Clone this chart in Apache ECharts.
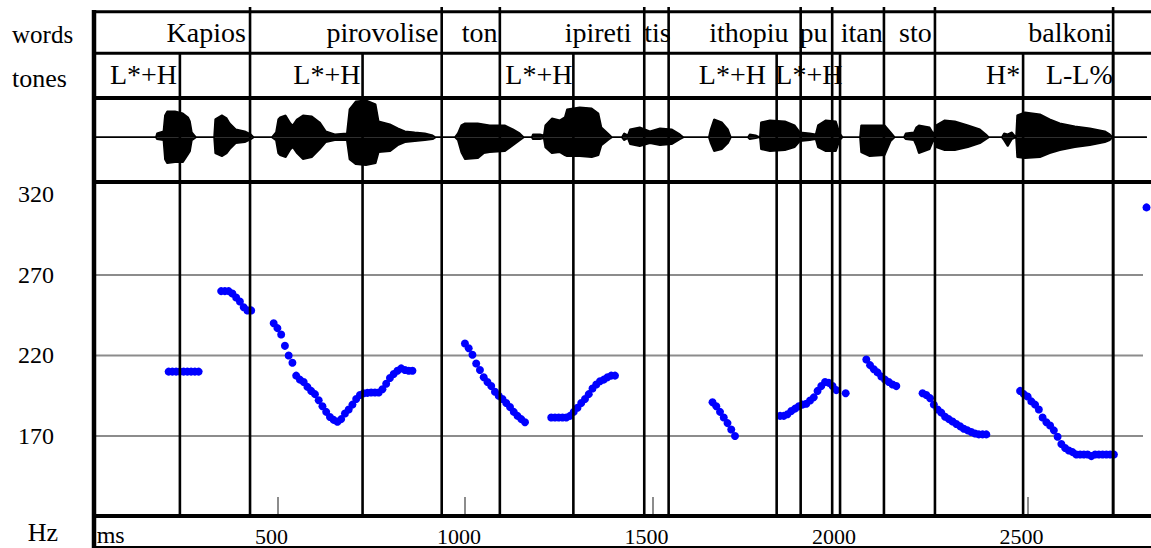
<!DOCTYPE html>
<html><head><meta charset="utf-8">
<script src="https://cdn.jsdelivr.net/npm/echarts@6.0.0/dist/echarts.min.js"></script>
<style>html,body{margin:0;padding:0;background:#fff}#c{width:1151px;height:548px}</style>
</head><body><div id="c"></div>
<script>
// ---------- data ----------
const wordLabels = ['Kapios','pirovolise','ton','ipireti','tis','ithopiu','pu','itan','sto','balkoni'];
const wordEnds   = [427, 938, 1093, 1478, 1543, 1895, 1979, 2117, 2253, 2728];
const wordLabelTimes = [310, 780, 1039, 1355, 1513, 1757, 1929, 2058, 2201, 2614];
const toneLabels = ['L*+H','L*+H','L*+H','L*+H','L*+H','H*','L-L%'];
const toneEnds   = [240, 727, 1289, 1831, 2000, 2488, 2728];
const toneLabelTimes = [143, 632, 1197, 1713, 1917, 2435, 2638];
const yTickValues = [170, 220, 270, 320];
const yGridValues = [170, 220, 270];
const xTickValues = [500, 1000, 1500, 2000, 2500];
// pitch track [ms, Hz]
const pitch = [
 [210,210],[220,210],[230,210],[240,210],[250,210],[260,210],[270,210],[280,210],[290,210],
 [350,260],[360,260],[370,260],[380,258.5],[390,256],[400,253.5],[410,250],[420,248],[430,248],
 [490,240],[500,237],[510,233],[520,226],[530,220],[540,215.5],[550,207.5],[560,205],[570,203.5],[580,200.5],
 [590,198],[600,196],[610,192.2],[620,188.5],[630,185],[640,181.8],[650,180],[660,178.8],[670,180.5],[680,184],
 [690,186.5],[700,189.5],[710,193],[720,195.5],[730,196.5],[740,196.8],[750,197],[760,197],[770,197],[780,199],
 [790,202.5],[800,206],[810,208.5],[820,210.5],[830,212],[840,211],[850,210.5],[860,210.5],
 [1000,227.5],[1010,224.5],[1020,220.5],[1030,215],[1040,211],[1050,206.5],[1060,203.5],[1070,201],[1080,197.5],
 [1090,195],[1100,193],[1110,190.5],[1120,188],[1130,185],[1140,182.5],[1150,180.5],[1160,178.5],
 [1230,181.5],[1240,181.5],[1250,181.5],[1260,181.5],[1270,181.5],[1280,182.5],[1290,185],[1300,187.5],[1310,190.5],
 [1320,193],[1330,196],[1340,199.5],[1350,202],[1360,204],[1370,205],[1380,206.5],[1390,207.5],[1400,207.5],
 [1660,191],[1670,188.5],[1680,185],[1690,181.5],[1700,178],[1710,174],[1720,170],
 [1840,182.5],[1850,182.5],[1860,183.5],[1870,185.5],[1880,187],[1890,188.5],[1900,189.5],[1910,190],[1920,192],
 [1930,194],[1940,198],[1950,201],[1960,203.5],[1970,203],[1980,201],[1990,198.5],[2015,196.5],
 [2070,217.5],[2080,214],[2090,211.5],[2100,209.5],[2110,207],[2120,205],[2130,203.5],[2140,202],[2150,201],
 [2220,196.5],[2230,195.5],[2240,193.5],[2250,189.5],[2260,186.5],[2270,184.5],[2280,182],[2290,180.5],[2300,179],
 [2310,177.5],[2320,176],[2330,174.5],[2340,173.5],[2350,172.5],[2360,171.5],[2370,171],[2380,171],[2390,171],
 [2480,198],[2490,196],[2500,194.5],[2510,191.5],[2520,189.5],[2530,186.5],[2540,181.5],[2550,178.5],[2560,176.5],
 [2570,173.5],[2580,169.5],[2590,165],[2600,162.5],[2610,161],[2620,160],[2630,158.5],[2640,158.5],[2650,158.5],
 [2660,158.5],[2670,157.5],[2680,158.5],[2690,158.5],[2700,158.5],[2710,158.5],[2720,158.5],[2730,158.5],
 [2817,312]
];
// waveform envelope [ms, upper amplitude, lower amplitude]
const wave = [
 [11,0,0],[176,0,0],[179,4,2],[196,6,3],[200,22,22],[206,26,26],[227,26,25],[248,24,25],[262,20,17],[267,16,14],[272,5,3],[283,0,0],
 [331,0,0],[334,18,16],[352,22,19],[365,19,16],[373,14,12],[389,8,6],[413,6,5],[429,3,2],[437,0,0],
 [485,0,0],[496,5,3],[502,18,16],[507,20,18],[522,22,20],[535,14,12],[541,12,10],[552,18,16],[568,22,22],[592,21,20],[613,15,12],[629,6,5],
 [653,3,3],[685,4,3],[692,28,22],[709,36,27],[736,37,28],[762,33,26],[770,16,15],[800,13,14],[821,9,8],[840,6,5],
 [866,5,4],[893,4,3],[914,2,2],[922,0,0],
 [973,0,0],[981,4,3],[990,12,15],[1000,14,22],[1034,14,21],[1050,13,16],[1066,12,15],[1106,12,14],[1128,8,8],[1146,4,3],[1157,0,0],
 [1178,0,0],[1181,3,2],[1200,3,2],[1210,2,1],[1214,12,10],[1232,19,16],[1253,17,15],[1266,20,18],[1272,28,19],
 [1306,30,19],[1338,29,20],[1356,24,18],[1364,10,8],[1384,3,2],[1392,0,0],
 [1418,0,0],[1424,4,3],[1434,2,1],[1440,8,7],[1466,10,9],[1493,6,6],[1520,9,8],[1551,8,7],[1573,3,2],[1583,0,0],
 [1650,0,0],[1655,8,6],[1664,18,14],[1685,15,12],[1701,8,6],[1709,0,0],
 [1754,0,0],[1759,3,2],[1775,2,1],[1786,0,0],[1789,15,12],[1813,17,14],[1853,16,13],[1879,12,10],[1893,5,4],
 [1919,4,3],[1935,3,2],[1941,12,10],[1962,17,14],[1989,16,14],[1999,4,3],[2007,0,0],
 [2053,0,0],[2056,12,15],[2079,12,19],[2119,12,18],[2135,5,4],[2146,0,0],
 [2170,0,0],[2175,4,2],[2197,5,3],[2203,10,8],[2210,12,16],[2239,10,12],[2250,3,2],[2256,12,10],[2279,17,13],
 [2306,16,13],[2341,12,10],[2373,8,6],[2389,3,2],[2397,0,0],
 [2431,0,0],[2437,4,3],[2447,3,9],[2458,5,2],[2469,0,0],[2472,22,20],[2493,25,21],[2533,23,20],[2559,18,16],
 [2586,14,13],[2626,11,10],[2666,9,8],[2706,6,5],[2719,3,3],[2727,0,0],[2818,0,0]
];

// ---------- layout ----------
const FONT = 'Liberation Serif';
const LEFT = 94, XMIN = 11, XMAX = 2829;
const PITCH_TOP = 183, PITCH_H = 332, PITCH_BOTTOM = PITCH_TOP + PITCH_H;
const YMIN = 120.93, YMAX = 327.14;
const WORD_LINE_TOP = 7, TONE_LINE_TOP = 53;
const WORD_TEXT_Y = 32.2, TONE_TEXT_Y = 74.8;

const chart = echarts.init(document.getElementById('c'), null, {renderer: 'svg'});

function vline(top) {
  return function (params, api) {
    const x = api.coord([api.value(0), YMIN])[0];
    return {type: 'line', shape: {x1: x, y1: top, x2: x, y2: PITCH_BOTTOM},
      style: {stroke: '#000', lineWidth: 2.6}};
  };
}
function tierText(labels, y) {
  return function (params, api) {
    const x = api.coord([api.value(0), YMIN])[0];
    return {type: 'text', x: x, y: y,
      style: {text: labels[params.dataIndex], align: 'center', verticalAlign: 'middle',
        fontSize: 28, fontFamily: FONT, fill: '#000'}};
  };
}
function hline(params, api) {
  const a = api.coord([XMIN, api.value(1)]);
  const b = api.coord([XMAX, api.value(1)]);
  return {type: 'line', shape: {x1: a[0] + 2, y1: a[1], x2: b[0] - 8, y2: b[1]},
    style: {stroke: '#8c8c8c', lineWidth: 2}};
}

function border(x1, y1, x2, y2, w) {
  return {type: 'line', z: 50, shape: {x1, y1, x2, y2}, style: {stroke: '#000', lineWidth: w}};
}
function label(text, x, y, size) {
  return {type: 'text', z: 50, x, y, style: {text, fontSize: size, fontFamily: FONT, fill: '#000',
    align: 'left', verticalAlign: 'middle'}};
}

const option = {
  animation: false,
  backgroundColor: '#fff',
  grid: [
    {left: LEFT, right: 0, top: 97, height: 80.6, outerBoundsMode: 'none', containLabel: false},
    {left: LEFT, right: 0, top: PITCH_TOP, height: PITCH_H, outerBoundsMode: 'none', containLabel: false}
  ],
  xAxis: [
    {type: 'value', gridIndex: 0, min: XMIN, max: XMAX, show: false},
    {type: 'value', gridIndex: 1, min: XMIN, max: XMAX,
      axisLine: {show: false},
      splitLine: {show: false},
      axisTick: {show: true, inside: true, length: 18, customValues: xTickValues,
        lineStyle: {color: '#8c8c8c', width: 2}},
      axisLabel: {show: true, customValues: xTickValues, fontSize: 22, fontFamily: FONT, color: '#000',
        margin: 21.6, verticalAlign: 'middle', padding: [0, 12, 0, 0], formatter: v => String(v)}
    }
  ],
  yAxis: [
    {type: 'value', gridIndex: 0, min: -40.3, max: 40.3, show: false},
    {type: 'value', gridIndex: 1, min: YMIN, max: YMAX,
      axisLine: {show: false}, axisTick: {show: false}, splitLine: {show: false},
      axisLabel: {show: true, customValues: yTickValues, fontSize: 24, fontFamily: FONT, color: '#000',
        margin: 40, padding: [6, 0, 0, 0], formatter: v => String(v)}
    }
  ],
  series: [
    {type: 'line', xAxisIndex: 0, yAxisIndex: 0, silent: true, symbol: 'none', z: 2,
      data: wave.map(d => [d[0], d[1]]),
      lineStyle: {color: '#000', width: 1.6}, areaStyle: {color: '#000', opacity: 1}},
    {type: 'line', xAxisIndex: 0, yAxisIndex: 0, silent: true, symbol: 'none', z: 2,
      data: wave.map(d => [d[0], -d[2]]),
      lineStyle: {color: '#000', width: 1.6}, areaStyle: {color: '#000', opacity: 1}},
    {type: 'custom', xAxisIndex: 1, yAxisIndex: 1, silent: true, z: 1,
      data: yGridValues.map(v => [XMIN, v]), renderItem: hline},
    {type: 'scatter', xAxisIndex: 1, yAxisIndex: 1, silent: true, z: 3,
      data: pitch, symbol: 'circle', symbolSize: 8, itemStyle: {color: '#0000ff', opacity: 1}},
    {type: 'custom', xAxisIndex: 1, yAxisIndex: 1, silent: true, z: 5, clip: false,
      data: wordEnds.map(v => [v, 200]), renderItem: vline(WORD_LINE_TOP)},
    {type: 'custom', xAxisIndex: 1, yAxisIndex: 1, silent: true, z: 5, clip: false,
      data: toneEnds.map(v => [v, 200]), renderItem: vline(TONE_LINE_TOP)},
    {type: 'custom', xAxisIndex: 1, yAxisIndex: 1, silent: true, z: 6, clip: false,
      data: wordLabelTimes.map(v => [v, 200]), renderItem: tierText(wordLabels, WORD_TEXT_Y)},
    {type: 'custom', xAxisIndex: 1, yAxisIndex: 1, silent: true, z: 6, clip: false,
      data: toneLabelTimes.map(v => [v, 200]), renderItem: tierText(toneLabels, TONE_TEXT_Y)}
  ],
  graphic: {elements: [
    border(92, 11.7, 1151, 11.7, 3),
    border(92, 53.3, 1151, 53.3, 3),
    border(92, 98, 1151, 98, 4),
    border(92, 182, 1151, 182, 4),
    border(92, 516, 1151, 516, 4),
    border(92, 547, 1151, 547, 2),
    border(94, 10, 94, 548, 4.5),
    label('words', 12, 34.4, 25),
    label('tones', 12, 78, 26),
    label('Hz', 27.7, 532, 26),
    label('ms', 96.7, 535.4, 24)
  ]}
};
chart.setOption(option);
</script>
</body></html>
